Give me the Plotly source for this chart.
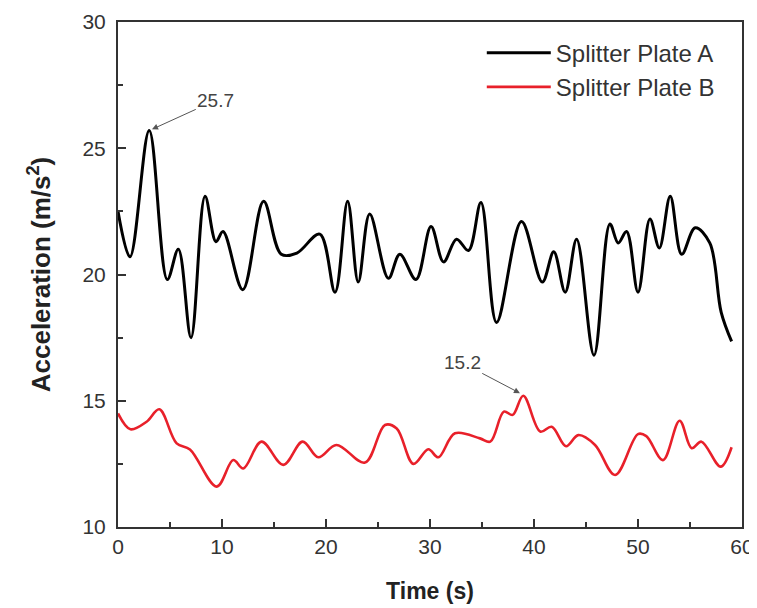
import plotly.graph_objects as go

# Splitter Plate A (black)
t_a = [0, 1.15, 3.0, 4.74, 5.8, 7.02, 8.37, 9.42, 10.1, 12.0, 14.0, 15.7, 17.2, 19.4,
       20.87, 22.08, 23.1, 24.2, 26.0, 27.1, 28.65, 30.1, 31.3, 32.55, 33.7, 34.9, 36.4,
       38.8, 40.8, 41.9, 43.0, 44.1, 45.77, 47.3, 48.1, 48.9, 50.0, 51.15, 52.05, 53.1,
       54.2, 55.5, 56.9, 58.0, 59.0]
acc_a = [22.5, 20.7, 25.7, 19.8, 21.0, 17.5, 23.1, 21.3, 21.7, 19.4, 22.9, 20.8, 20.85, 21.6,
         19.3, 22.9, 19.7, 22.4, 19.85, 20.8, 19.8, 21.9, 20.5, 21.4, 20.95, 22.85, 18.1,
         22.1, 19.7, 20.9, 19.3, 21.4, 16.8, 22.0, 21.25, 21.7, 19.3, 22.2, 21.05, 23.1,
         20.8, 21.85, 21.25, 18.5, 17.35]

# Splitter Plate B (red)
t_b = [0, 1.2, 2.75, 3.97, 5.64, 6.92, 9.49, 11.08, 12.05, 13.8, 15.9, 17.75, 19.26, 21.0,
       23.75, 25.67, 26.8, 28.4, 29.84, 30.8, 32.4, 34.8, 35.8, 37.1, 37.95, 38.97, 40.6,
       41.7, 43.08, 44.26, 45.87, 47.8, 50.0, 50.8, 52.4, 54.0, 55.16, 56.1, 57.95, 59.0]
acc_b = [14.5, 13.87, 14.17, 14.66, 13.31, 13.07, 11.6, 12.65, 12.32, 13.38, 12.46, 13.38, 12.76, 13.25,
         12.55, 14.04, 13.9, 12.5, 13.08, 12.76, 13.71, 13.51, 13.38, 14.57, 14.44, 15.2, 13.78,
         13.97, 13.2, 13.64, 13.25, 12.06, 13.68, 13.6, 12.65, 14.21, 13.12, 13.38, 12.39, 13.16]

names = ["Splitter Plate A", "Splitter Plate B"]
x_ticks = [0, 10, 20, 30, 40, 50, 60]
y_ticks = [10, 15, 20, 25, 30]

# annotated peaks: (label, peak time, peak value, label time, label value)
peak_a = ("25.7", 3.27, 25.75, 9.4, 26.9)
peak_b = ("15.2", 38.65, 15.3, 33.1, 16.5)

FONT = "Liberation Sans, Arial, sans-serif"

fig = go.Figure()
fig.add_trace(go.Scatter(x=t_a, y=acc_a, mode="lines", name=names[0],
                         line=dict(color="#000000", width=3, shape="spline", smoothing=1.0)))
fig.add_trace(go.Scatter(x=t_b, y=acc_b, mode="lines", name=names[1],
                         line=dict(color="#e8202a", width=2.6, shape="spline", smoothing=1.0)))

for lab, px, py, tx, ty in (peak_a, peak_b):
    fig.add_annotation(x=px, y=py, ax=tx, ay=ty, xref="x", yref="y", axref="x", ayref="y",
                       text=lab, showarrow=True, arrowhead=2, arrowsize=1.2, arrowwidth=1,
                       arrowcolor="#555555", standoff=0, startstandoff=0,
                       font=dict(family=FONT, size=19, color="#444444"))

fig.update_layout(
    width=757, height=600,
    margin=dict(l=110, r=23, t=14, b=81),
    paper_bgcolor="white", plot_bgcolor="white",
    font=dict(family=FONT, color="#333333"),
    showlegend=True,
    legend=dict(x=0.583, y=0.983, xanchor="left", yanchor="top",
                bgcolor="rgba(0,0,0,0)", borderwidth=0,
                font=dict(family=FONT, size=24, color="#333333"),
                itemwidth=64, tracegroupgap=0),
    xaxis=dict(range=[0, 60], tickvals=x_ticks, ticks="inside", ticklen=8, tickwidth=1.5,
               tickcolor="#333333", showline=True, linecolor="#333333", linewidth=2,
               mirror=True, showgrid=False, zeroline=False, automargin=False,
               ticklabeloverflow="allow",
               minor=dict(dtick=5, ticks="inside", ticklen=5, tickwidth=1.5, tickcolor="#333333"),
               tickfont=dict(size=21, color="#333333"),
               title=dict(text="<b>Time (s)</b>", font=dict(size=23, color="#222222"), standoff=26)),
    yaxis=dict(range=[10, 30], tickvals=y_ticks, ticks="inside", ticklen=8, tickwidth=1.5,
               tickcolor="#333333", showline=True, linecolor="#333333", linewidth=2,
               mirror=True, showgrid=False, zeroline=False, ticklabelstandoff=6, automargin=False,
               ticklabeloverflow="allow",
               minor=dict(dtick=2.5, ticks="inside", ticklen=5, tickwidth=1.5, tickcolor="#333333"),
               tickfont=dict(size=21, color="#333333"),
               title=dict(text="<b>Acceleration (m/s<sup>2</sup>)</b>",
                          font=dict(size=26, color="#222222"), standoff=24)),
)

fig.write_html("out.html",
               post_script="document.documentElement.style.overflow='hidden';"
                           "document.body.style.overflow='hidden';")
